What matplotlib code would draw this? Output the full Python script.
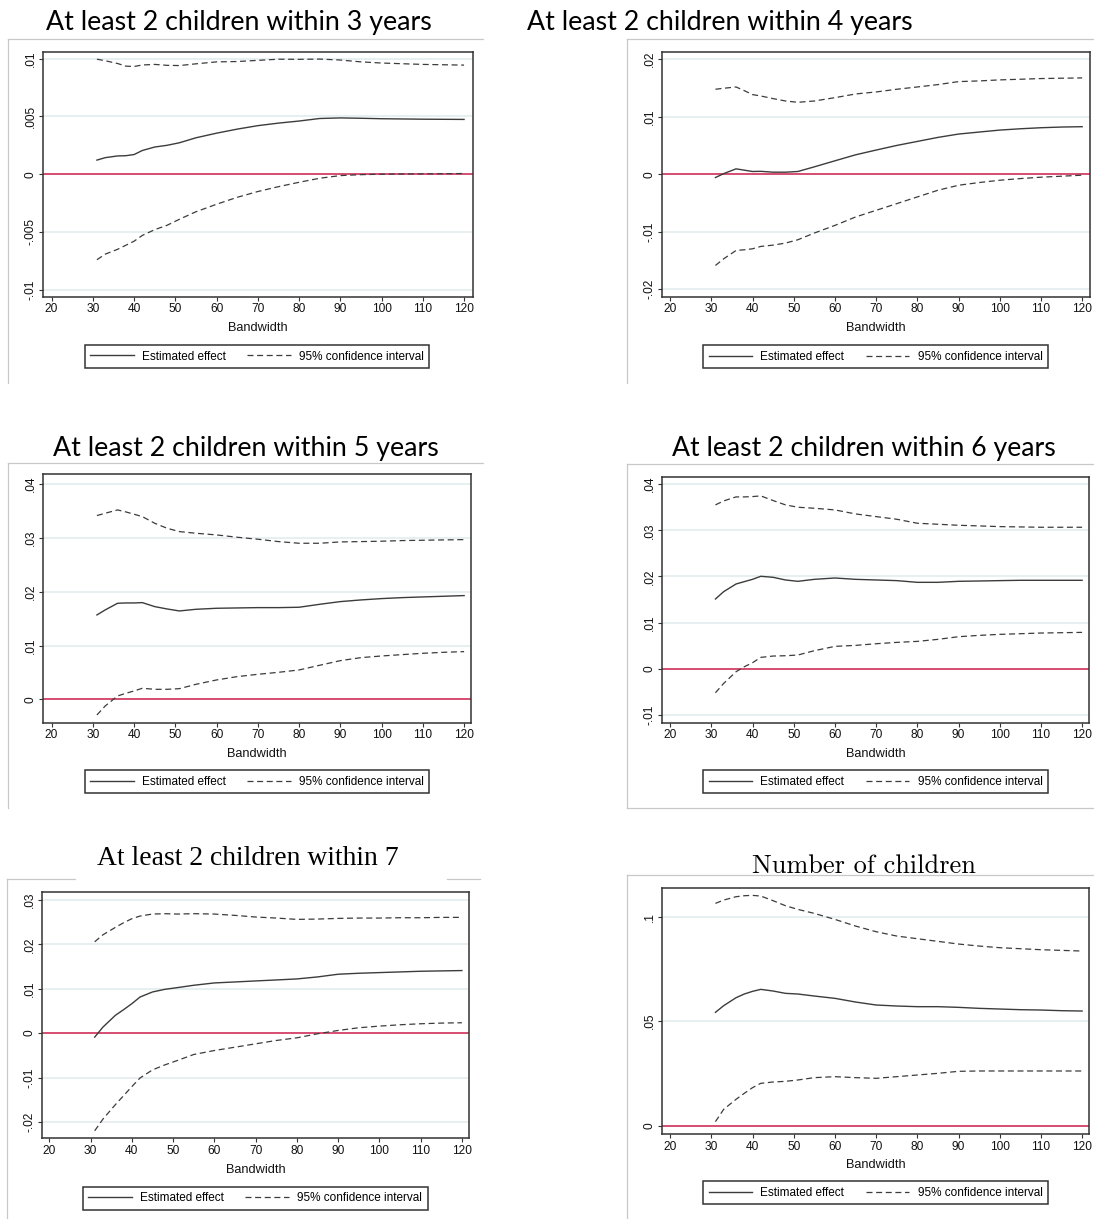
import matplotlib
matplotlib.use('Agg')
import matplotlib.pyplot as plt
from matplotlib.lines import Line2D
from matplotlib.ticker import FuncFormatter

W, H = 1094, 1219

# bandwidths at which the RD estimates were evaluated
BANDWIDTH = [31, 33, 36, 38, 40, 42, 45, 48, 51, 55, 60, 65, 70, 75, 80, 85,
             90, 95, 100, 105, 110, 115, 120]

# at least 2 children within 3 years
est_3y = [.00122, .00143, .00158, .00160, .00170, .00205, .00235, .00250, .00272, .00315,
          .00355, .00390, .00420, .00442, .00460, .00482, .00487, .00484, .00480, .00478,
          .00476, .00475, .00474]
hi_3y = [.00995, .00982, .00958, .00935, .00932, .00945, .00950, .00942, .00940, .00955,
         .00972, .00975, .00985, .00995, .00994, .00996, .00988, .00972, .00962, .00956,
         .00950, .00947, .00944]
lo_3y = [-.00740, -.00692, -.00650, -.00615, -.00580, -.00530, -.00480, -.00442, -.00390,
         -.00325, -.00260, -.00200, -.00150, -.00108, -.00070, -.00035, -.00012, -.00004,
         .00000, .00002, .00003, .00004, .00006]

# at least 2 children within 4 years
est_4y = [-.00058, .00010, .00093, .00070, .00047, .00050, .00035, .00035, .00047, .00128,
          .00233, .00337, .00420, .00500, .00570, .00640, .00698, .00733, .00767, .00790,
          .00808, .00820, .00826]
hi_4y = [.01477, .01494, .01517, .01453, .01384, .01360, .01314, .01273, .01250, .01273,
         .01331, .01395, .01430, .01477, .01517, .01558, .01610, .01622, .01640, .01651,
         .01663, .01669, .01674]
lo_4y = [-.01587, -.01471, -.01326, -.01314, -.01297, -.01256, -.01233, -.01198, -.01140,
         -.01023, -.00890, -.00744, -.00628, -.00512, -.00395, -.00279, -.00192, -.00145,
         -.00105, -.00076, -.00052, -.00035, -.00017]

# at least 2 children within 5 years
est_5y = [.01569, .01662, .01786, .01792, .01792, .01798, .01724, .01680, .01643, .01674,
          .01693, .01699, .01705, .01705, .01712, .01767, .01817, .01848, .01873, .01891,
          .01904, .01916, .01929]
hi_5y = [.03417, .03460, .03522, .03485, .03442, .03398, .03274, .03181, .03119, .03088,
         .03057, .03014, .02977, .02933, .02902, .02902, .02927, .02933, .02940, .02952,
         .02958, .02964, .02970]
lo_5y = [-.00291, -.00124, .00062, .00112, .00155, .00205, .00186, .00186, .00198, .00279,
         .00360, .00422, .00465, .00502, .00546, .00633, .00719, .00775, .00806, .00831,
         .00856, .00874, .00887]

# at least 2 children within 6 years
est_6y = [.01512, .01671, .01837, .01888, .01938, .02004, .01982, .01924, .01895, .01938,
          .01967, .01938, .01924, .01910, .01873, .01873, .01895, .01902, .01910, .01917,
          .01917, .01917, .01917]
hi_6y = [.03552, .03638, .03725, .03725, .03732, .03747, .03646, .03552, .03501, .03479,
         .03443, .03356, .03298, .03241, .03154, .03132, .03110, .03096, .03081, .03074,
         .03067, .03067, .03067]
lo_6y = [-.00521, -.00318, -.00065, .00043, .00130, .00246, .00275, .00282, .00297, .00391,
         .00485, .00506, .00542, .00571, .00593, .00637, .00694, .00723, .00745, .00759,
         .00774, .00781, .00788]

# at least 2 children within 7 years
est_7y = [-.00090, .00136, .00400, .00528, .00663, .00814, .00927, .00987, .01025, .01078,
          .01131, .01153, .01176, .01198, .01221, .01266, .01327, .01349, .01364, .01379,
          .01394, .01402, .01410]
hi_7y = [.02058, .02216, .02382, .02487, .02578, .02638, .02683, .02691, .02683, .02691,
         .02683, .02653, .02616, .02593, .02563, .02570, .02585, .02593, .02593, .02600,
         .02600, .02608, .02608]
lo_7y = [-.02201, -.01937, -.01613, -.01410, -.01206, -.01010, -.00829, -.00716, -.00618,
         -.00482, -.00392, -.00317, -.00241, -.00166, -.00106, -.00015, .00060, .00121,
         .00158, .00188, .00211, .00226, .00234]

# number of children
est_n = [.05423, .05742, .06124, .06300, .06427, .06523, .06443, .06332, .06300, .06204,
         .06093, .05917, .05774, .05726, .05694, .05694, .05662, .05614, .05582, .05550,
         .05534, .05502, .05486]
hi_n = [.10638, .10797, .10957, .11005, .11021, .10989, .10766, .10526, .10351, .10159,
        .09872, .09553, .09282, .09075, .08947, .08820, .08692, .08596, .08517, .08469,
        .08421, .08389, .08357]
lo_n = [.00191, .00781, .01260, .01547, .01818, .02025, .02089, .02121, .02185, .02297,
        .02344, .02297, .02265, .02344, .02424, .02504, .02600, .02616, .02616, .02616,
        .02616, .02616, .02616]

TITLES = ['At least 2 children within 3 years', 'At least 2 children within 4 years',
          'At least 2 children within 5 years', 'At least 2 children within 6 years',
          'At least 2 children within 7', 'Number of children']
YTICKS = [[-.01, -.005, 0, .005, .01], [-.02, -.01, 0, .01, .02],
          [0, .01, .02, .03, .04], [-.01, 0, .01, .02, .03, .04],
          [-.02, -.01, 0, .01, .02, .03], [0, .05, .1]]
XTICKS = list(range(20, 121, 10))
SERIES = [(est_3y, hi_3y, lo_3y), (est_4y, hi_4y, lo_4y), (est_5y, hi_5y, lo_5y),
          (est_6y, hi_6y, lo_6y), (est_7y, hi_7y, lo_7y), (est_n, hi_n, lo_n)]

# layout of each graph in pixels: plot region (left, top, right, bottom), limits,
# title (centre x, baseline y, width, font), legend centre
PANELS = [
    dict(box=(43.3, 51.7, 472.7, 296.7), xlim=(18.0, 122.1), ylim=(-.0106, .0106),
         title=(239, 30, 385, 'Lato'), legend=(257, 356.5)),
    dict(box=(662.3, 51.7, 1090, 296.7), xlim=(18.1, 121.9), ylim=(-.0213, .0213),
         title=(719.5, 30, 385, 'Lato'), legend=(875.5, 356.7)),
    dict(box=(43.3, 474, 470.7, 722.7), xlim=(18.0, 121.6), ylim=(-.00435, .0419),
         title=(245.7, 456, 385, 'Lato'), legend=(257, 781.8)),
    dict(box=(662.3, 477.3, 1089.3, 722.7), xlim=(18.1, 121.75), ylim=(-.0117, .0415),
         title=(864, 456, 384, 'Lato'), legend=(875.5, 781.8)),
    dict(box=(42.3, 892, 469.3, 1138.3), xlim=(18.3, 121.8), ylim=(-.0237, .0318),
         title=(248, 865, 303, 'Liberation Serif'), legend=(255.3, 1198.3)),
    dict(box=(662.3, 888.3, 1089.3, 1134), xlim=(18.1, 121.75), ylim=(-.004, .1136),
         title=(864, 873, 225, 'cmr10'), legend=(875.5, 1192.8)),
]

# light grey graph-region borders (x0, y0, x1, y1)
FRAMES = [
    (8, 39, 483, 39), (8, 39, 8, 383),
    (627, 39, 1094, 39), (627, 39, 627, 383),
    (8, 463, 483, 463), (8, 463, 8, 808),
    (627, 464, 1094, 464), (627, 464, 627, 808), (627, 808, 1094, 808),
    (7, 879, 75, 879), (447, 879, 480, 879), (7, 879, 7, 1219),
    (627, 875, 1094, 875), (627, 875, 627, 1219),
]

LINE_COLOR = '#3c3c3c'
FRAME_COLOR = '#333333'
ZERO_COLOR = '#d4325c'
GRID_COLOR = '#e6eef0'
DASH = (0, (4.8, 2.9))

plt.rcParams['font.family'] = 'Liberation Sans'
plt.rcParams['axes.unicode_minus'] = False


def stata_fmt(v, pos):
    s = f'{round(v, 6):g}'
    return s.replace('-0.', '-.').replace('0.', '.') if s not in ('0', '-0') else '0'


def fx(px):
    return px / W


def fy(py):
    return 1 - py / H


fig = plt.figure(figsize=(W / 100, H / 100), dpi=100)
fig.patch.set_facecolor('white')
renderer = fig.canvas.get_renderer()

for x0, y0, x1, y1 in FRAMES:
    fig.add_artist(Line2D([fx(x0), fx(x1)], [fy(y0), fy(y1)], color='#c8c8c8', lw=0.9,
                          transform=fig.transFigure))

for i, p in enumerate(PANELS):
    l, t, r, b = p['box']
    ax = fig.add_axes([fx(l), fy(b), (r - l) / W, (b - t) / H])
    est, hi, lo = SERIES[i]

    ax.axhline(0, color=ZERO_COLOR, lw=1.2, zorder=2)
    ax.plot(BANDWIDTH, est, color=LINE_COLOR, lw=1.0, zorder=3, label='Estimated effect')
    ax.plot(BANDWIDTH, hi, color=LINE_COLOR, lw=0.9, ls=DASH, zorder=3,
            label='95% confidence interval')
    ax.plot(BANDWIDTH, lo, color=LINE_COLOR, lw=0.9, ls=DASH, zorder=3)

    ax.set_xlim(*p['xlim'])
    ax.set_ylim(*p['ylim'])
    ax.set_xticks(XTICKS)
    ax.set_yticks(YTICKS[i])
    ax.yaxis.set_major_formatter(FuncFormatter(stata_fmt))
    ax.yaxis.grid(True, color=GRID_COLOR, lw=1.3)
    ax.set_axisbelow(True)
    ax.tick_params(direction='out', length=3.2, width=0.8, color=FRAME_COLOR,
                   labelsize=8.6, pad=1.5, labelcolor='#111111')
    ax.tick_params(axis='y', labelrotation=90)
    for lab in ax.get_yticklabels():
        lab.set_va('center')
    for side in ax.spines.values():
        side.set_color(FRAME_COLOR)
        side.set_linewidth(1.1)
    ax.set_xlabel('Bandwidth', fontsize=9.2, labelpad=5, color='#111111')

    leg = ax.legend(loc='center', bbox_to_anchor=(fx(p['legend'][0]), fy(p['legend'][1])),
                    bbox_transform=fig.transFigure, ncol=2, fontsize=8.5, frameon=True,
                    fancybox=False, framealpha=1, edgecolor=FRAME_COLOR, borderpad=0.45,
                    handlelength=3.7, handletextpad=0.7, columnspacing=1.8)
    leg.get_frame().set_linewidth(1.1)

    # title sized to its measured width
    cx, base, width, family = p['title']
    txt = fig.text(fx(cx), fy(base), TITLES[i], ha='center', va='baseline', fontsize=10,
                   family=family, color='black')
    w = txt.get_window_extent(renderer).width
    txt.set_fontsize(10 * width / w)

fig.savefig('out.png', dpi=100)
